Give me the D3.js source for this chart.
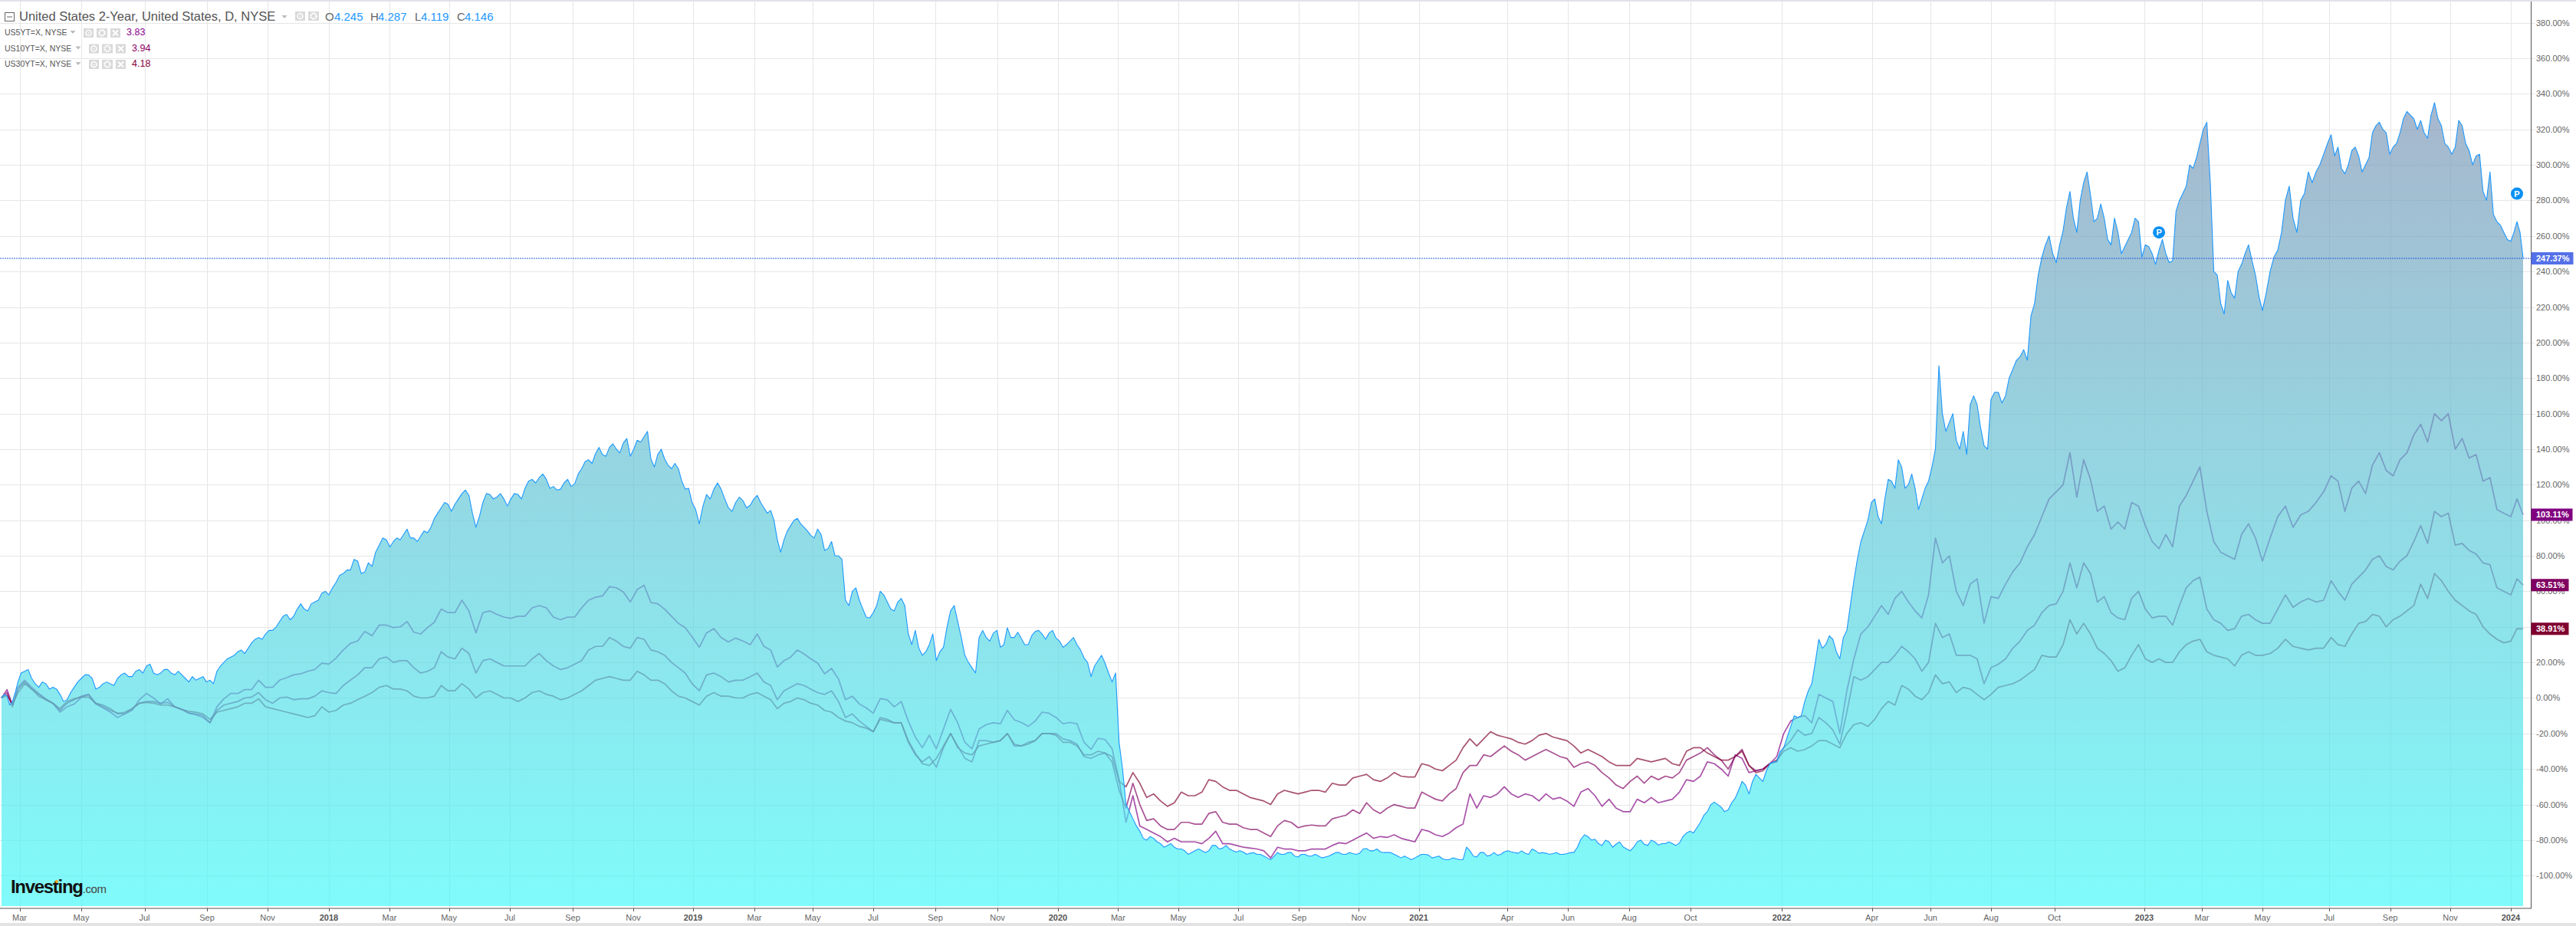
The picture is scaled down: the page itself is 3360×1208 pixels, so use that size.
<!DOCTYPE html>
<html><head><meta charset="utf-8">
<script src="https://cdn.jsdelivr.net/npm/d3@7"></script>
<style>html,body{margin:0;padding:0;background:#fff}svg{display:block}text{font-family:"Liberation Sans",Arial,sans-serif}</style>
</head><body><svg id="c" width="3360" height="1208"></svg>
<script>
// Weekly closes from the first date, % change
const startDate = "2017-02-06";
const us2y = [
0.3,1,-2,9,15,11,6,8,6,2,-1,6,11,13,5,8,8,11,14,12,
16,18,14,14,16,13,13,9,10,12,10,15,20,23,26,25,31,34,36,38,
43,47,46,53,49,54,59,58,65,70,72,77,71,74,86,89,88,89,95,90,
91,93,101,107,109,109,115,114,96,110,114.5,113,112,112,114.5,118,123,124,123,119,
117.5,123,120.5,129,134,137.5,137,141,140,143.5,136,145,147,134.5,137,134.5,129,129,117.5,110,
98,114.5,117.5,117.5,107,110,111,108.5,114,107,105.5,89,89,97,101,96,91.5,95,83,88,
80,55,60,55,45.5,48,60,54,49,56,36,38,24,30,21,28.5,49,43,24,17,
34,34,36.5,28.5,39.5,34,33.5,30,37.4,36,36.5,33.7,28.5,32,30,22.5,12,21,19.5,9,
-25,-60,-68,-75,-80,-79,-82,-83,-84,-85,-88,-86,-86,-86,-83,-84.5,-85,-86.7,-86.7,-87.4,
-88,-89,-91,-87,-88,-87,-89.5,-88,-89,-89,-89.5,-88,-87,-88,-87.6,-87.4,-84.8,-86,-86.6,-87,
-88,-90,-90,-90,-88,-88.5,-89.5,-90.5,-91,-90.5,-91,-86,-89.5,-87,-88.5,-88.5,-86.6,-86.6,-87.4,-87.4,
-85,-87.4,-87.4,-87.6,-88,-87.6,-87,-79.5,-78,-79.5,-83,-81,-82.3,-83.8,-86,-81,-82.3,-80,-82.8,-82,
-82,-81.6,-76,-76,-70,-64,-58.6,-61.5,-63,-56.5,-47,-54,-43,-47,-37,-35.6,-28,-16,-11,-2,
8,33,30,33,22,38,66,88,100,112,98,123,118,130,120,118,112,122,140,160,
155,145,150,165,165,142,168,172,170,185,192,190,222,248,260,245,263,285,262,290,
283,270,270,255,262,254,262,268,255,250,252,250,246,280,288,298,312,324,240,222,
235,225,244,255,238,218,240,252,280,270,280,296,296,306,317,310,295,308,305,300,
318,324,318,310,318,330,326,325,315,335,322,310,310,322,308,305,285,296,268,262,
257,268,247.37];
// Mid-week readings of the 2-year line, one between each pair of weekly values
const us2yMid = [
2,-4,3,14,16,8,9,5,5,-2,3,9,13,11,6,9,7,13,12,15,
14,19,13,16,14,15,11,12,11,9,8,18,22,24,27,28,33,33,38,40,
46,44,50,50,53,55,60,62,69,72,78,70,76,82,90,85,90,92,90,88,
94,96,104,110,105,112,117,104,102,115,112,115,108,115,112,122,121,126,118,117,
121,119,126,133,132,141,136,143,138,146,140,144,150,130,140,131,132,122,118,106,
108,112,121,112,105,113,107,112,110,104,100,82,94,100,98,94,90,92,84,80,
78,52,62,50,45,52,58,50,54,52,30,28,26,36,26,40,52,34,20,14,
38,32,38,30,34,37,30,35,38,33,38,32,30,34,27,20,18,24,14,14,
-40,-64,-72,-79,-78,-81,-84,-82,-85,-86,-87,-85,-87,-83,-85,-83,-86,-86,-88,-87,
-88,-90,-89,-88,-87,-89,-88,-89,-88,-90,-89,-87,-88,-87,-88,-85,-86,-85,-87,-87,
-89,-89,-91,-89,-88,-90,-89,-91,-90,-91,-84,-89,-87,-89,-87,-88,-86,-87,-86,-88,
-86,-87,-88,-87,-88,-87,-84,-77,-80,-82,-80,-84,-81,-85,-84,-80,-83,-81,-82,-81,
-83,-78,-75,-73,-66,-60,-60,-64,-59,-52,-49,-47,-45,-41,-36,-30,-22,-10,-10,4,
20,28,35,26,34,52,78,94,110,102,112,122,134,118,126,106,118,130,187,150,
160,140,137,170,152,140,172,166,180,190,196,215,238,255,250,255,276,270,280,296,
268,278,258,270,250,258,270,248,254,244,258,245,274,284,300,304,320,290,238,216,
228,240,250,246,226,228,248,262,288,262,284,290,300,312,305,298,300,310,296,304,
322,320,306,312,326,328,320,318,328,326,312,306,325,312,300,306,280,272,266,258,
262,262];
const us5y = [
0,4.7,-4,6,10,6,2.5,-0.5,-3,-8,-5,-3.4,0.3,2,-3.4,-5.6,-8,-11,-9,-7,
-1,2.5,0,-3.4,-0.5,-5,-6.4,-8.6,-9.5,-11,-14,-5,-0.5,2.5,2.5,4.7,4.7,10,6,6,
10,11.4,13,13.6,15,16,19.6,19,22.5,27,30.7,32,37.4,35,41,41,39.6,40,43,37,
36,39.6,42.6,50,48,48,55,49,36.6,48,49,47,45.5,44.8,46,46,50.7,52,50.7,45.5,
44,45.5,45.5,50.7,55,56.7,57.4,62.6,62,59.6,54,61,63.4,53.7,53,50,46,42,39.6,34.4,
28.5,36.6,39,34,31.5,33.7,32,30,36,29,27,17.4,21,23,27,24.8,22,19.6,13.6,16.6,
10.7,-1,1,-3.4,-5.6,-8.6,-0.4,-1,-5,-2,-13,-22,-28,-21,-28.6,-17.5,-6.4,-14,-25,-28.6,
-17.5,-15,-14,-14.5,-7,-12.3,-13.8,-16,-13,-8,-8.6,-11,-14.5,-13.8,-14.5,-25,-29,-22.7,-23.4,-28.6,
-46,-70,-55,-72,-74,-76,-78,-81,-79,-81,-81,-81,-82,-79,-75,-82,-82,-83,-84,-84.5,
-85,-86,-90,-84,-85,-85,-86,-86,-85,-85,-85,-83,-81.5,-82,-80,-78,-76,-79,-78,-78.5,
-77,-79,-80,-81,-74,-75,-77,-78,-76,-73,-71,-54,-62,-55,-56,-54,-50,-54,-56,-54,
-55,-58,-54,-57,-56,-58,-61,-53,-51,-55,-61,-57,-62,-64,-64,-57,-59,-56,-59,-58,
-57,-53,-46,-47,-44,-36,-37,-40,-44,-32,-34,-42,-41,-40,-37,-33,-20,-13,-11,-10,
-14,2,0,-2,-20,4,22,36,40,46,52,47,56,60,54,49,45,58,90,76,
80,60,52,64,67,42,57,56,64,71,76,85,92,102,112,116,120,138,113,134,
123,105,108,95,99,95,110,108,97,88,84,92,85,108,114,122,130,105,88,82,
80,78,92,98,90,77,90,102,108,96,103,105,110,116,125,122,105,118,122,115,
131,138,128,125,134,138,148,154,144,160,156,160,140,146,135,137,122,124,106,104,
102,112,103.11];
const us10y = [
0,3,-5,5,9,5,2,-1,-3,-7,-3,-1,1,2,-3,-5,-7,-8.5,-9,-6,
-3,-2,-2,-3,-2.5,-5,-6.5,-8.5,-9,-10,-14,-7,-4,-3,-2,0,0.5,3,-1,-3,
0,0.5,-1,-0.5,-0.5,1,4,3,2.5,7,10,13,17,17,22,23,20,21,21,17,
14,15,17,26,23,22,28,25,14,21,22,20,18,18,18,18,22,25,21,18,
16,17,19,21,27,29,29,34,32,29,28,34,33,27,26,24,20,17,14,8,
4,13,14,12,9,10,10,12,14,9,7,-1,4,6,8,7,5,3,2,4,
-2,-11,-9,-13,-16,-19,-11,-12,-14,-14,-25,-32,-36,-33,-39,-28,-20,-27,-34,-36,
-24,-24,-25,-24,-20,-27,-27,-25,-24,-20,-20,-20,-23,-24,-26,-33,-34,-32,-31,-36,
-52,-62,-48,-60,-69,-68,-72,-74,-74,-70,-70,-71,-71,-65,-64,-70,-71,-71,-73,-74,
-74,-76,-78,-72,-69,-70,-73,-72,-71.5,-72,-72,-68,-67,-66,-63,-65,-59,-63,-65,-62,
-60,-61,-62,-62,-53,-55,-57,-58,-54,-51,-42,-38,-38,-32,-33,-30,-27,-30,-32,-35,
-33,-31,-29,-31,-33,-34,-39,-37,-36,-38,-42,-45,-49,-51,-47,-44,-48,-44,-46,-44,
-45,-42,-35,-33,-31,-28,-32,-35,-40,-33,-29,-38,-41,-40,-37,-36,-28,-24,-18,-21,
-20,-11,-14,-18,-26,-8,12,10,12,16,20,20,24,29,26,22,15,20,42,34,
36,24,24,24,22,8,17,19,22,28,32,38,41,48,52,53,60,76,62,76,
70,54,57,48,45,44,56,60,50,45,46,46,41,52,62,66,68,50,44,42,
38,39,46,47,44,42,42,50,58,51,54,56,54,55,66,60,55,64,68,72,
78,80,74,72,77,80,88,97,87,105,102,104,86,87,83,81,76,75,62,60,
58,67,63.51];
const us30y = [
0,1.5,-3.5,3,8,5,1,-1,-3,-6,-2,-0.5,0.5,0.5,-3,-4,-6,-9,-8,-6,
-3,-2.5,-3,-4,-4,-5,-6.5,-7.5,-8,-9,-12,-8,-7,-6,-5,-3,-3,-0.5,-5,-6,
-7,-8,-9,-10,-11,-10,-5,-8,-7,-4,-3,-1,1,3,6,7,5,5,4,1,
0,0,1,7,4,4,8,5,0,3,4,2,0,0,-2,0,3,4,2,1,
-1,0,2,4,7,10,11,12,11,10,10,15,13,10,10,8,4,1,0,-2,
-4,1,3,1,1,0,0,2,3,1,-1,-6,-3,-2,0,-1,-3,-4,-7,-8,
-11,-13,-14,-16,-17,-19,-12,-13,-14,-14,-24,-31,-37,-38,-34,-27,-20,-28,-31,-32,
-27,-26,-25,-24,-20,-26,-27,-26,-24,-20,-20,-21,-25,-25,-27,-32,-32,-30,-31,-33,
-47,-50,-42,-48,-56,-54,-58,-61,-59,-53,-55,-55,-53,-46,-47,-50,-52,-52,-54,-56,
-57,-58,-60,-54,-52,-53,-54,-53,-52,-52,-53,-48,-49,-49,-45,-44,-43,-46,-47,-45,
-42,-44,-44.5,-44.5,-37,-38,-40,-41,-38,-35,-28,-23,-27,-23,-19,-21,-22,-23,-25,-26,
-24,-21,-20,-22,-23,-24,-27,-31,-29,-31,-33,-36,-38,-38,-38,-34,-35,-36,-35,-34,
-37,-38,-30,-28,-28,-31,-33,-35,-35,-33,-30,-38,-42,-41,-37,-35,-30,-28,-30,-29,
-27,-24,-24,-26,-28,-20,-15,-14,-16,-12,-6,-2,-4,7,5,1,-1,3,13,8,
9,3,6,5,2,-1,2,6,7,8,10,13,16,24,23,23,30,44,36,42,
36,28,25,21,15,17,24,30,22,20,22,20,20,26,30,32,33,26,24,23,
22,18,24,26,24,24,25,28,33,29,28,27,28,28,34,30,29,36,42,43,
47,46,40,44,46,49,52,64,56,70,66,60,55,52,49,47,40,36,33,31,
32,39,38.91];
const tickDates = ["2017-03-01","2017-05-01","2017-07-01","2017-09-01","2017-11-01","2018-01-01","2018-03-01","2018-05-01","2018-07-01","2018-09-01","2018-11-01","2019-01-01","2019-03-01","2019-05-01","2019-07-01","2019-09-01","2019-11-01","2020-01-01","2020-03-01","2020-05-01","2020-07-01","2020-09-01","2020-11-01","2021-01-01","2021-04-01","2021-06-01","2021-08-01","2021-10-01","2022-01-01","2022-04-01","2022-06-01","2022-08-01","2022-10-01","2023-01-01","2023-03-01","2023-05-01","2023-07-01","2023-09-01","2023-11-01","2024-01-01"];
const tickLabels = ["Mar","May","Jul","Sep","Nov","2018","Mar","May","Jul","Sep","Nov","2019","Mar","May","Jul","Sep","Nov","2020","Mar","May","Jul","Sep","Nov","2021","Apr","Jun","Aug","Oct","2022","Apr","Jun","Aug","Oct","2023","Mar","May","Jul","Sep","Nov","2024"];
const endDate = "2024-01-15";
const yTicks = d3.range(-100, 381, 20);
const lastValues = [
  {label:"247.37%", v:247.37, fill:"#5470e8", w:55},
  {label:"103.11%", v:103.11, fill:"#800080", w:54},
  {label:"63.51%",  v:63.51,  fill:"#7f0060", w:49},
  {label:"38.91%",  v:38.91,  fill:"#7f0030", w:49}];
const splitDates = ["2023-01-16","2024-01-08"];
const splitLevels = [262,283.8];
const legendRows = [
  {name:"US5YT=X, NYSE",  val:"3.83", color:"#8b008b"},
  {name:"US10YT=X, NYSE", val:"3.94", color:"#8b0062"},
  {name:"US30YT=X, NYSE", val:"4.18", color:"#85003a"}];
const ohlc = [["O","4.245"],["H","4.287"],["L","4.119"],["C","4.146"]];

// layout
const tickX = [25.5,106,188.5,270,349,429,508,585.6,665,747,826,904,984,1060,1139,1220,1301,1380,1458.4,1536.9,1615.3,1694.4,1772.2,1850.6,1966,2045,2125,2205,2324,2441.6,2518,2597,2679.5,2797,2872,2951,3038,3117.6,3196,3275];
const plotL=2, plotR=3291, axisX=3301.5, axisY=1185, areaBottom=1182;
const parse=d3.utcParse("%Y-%m-%d");
const x=d3.scaleUtc().domain([parse(startDate),...tickDates.map(parse),parse(endDate)]).range([plotL,...tickX,plotR]);
const y=d3.scaleLinear().domain([-100,380]).range([1142.3,29.6]);
const dates=us2y.map((_,i)=>d3.utcDay.offset(parse(startDate),7*i));
const dense2y=d3.merge(us2y.map((v,i)=>i<us2yMid.length
  ?[{d:dates[i],v},{d:d3.utcHour.offset(dates[i],84),v:us2yMid[i]}]
  :[{d:dates[i],v}]));
const svg=d3.select("#c");
const defs=svg.append("defs");
const gr=defs.append("linearGradient").attr("id","af").attr("gradientUnits","userSpaceOnUse").attr("x1",0).attr("x2",0).attr("y1",121).attr("y2",areaBottom);
gr.append("stop").attr("offset",0).attr("stop-color","rgb(124,146,179)");
gr.append("stop").attr("offset",1).attr("stop-color","rgb(65,249,249)");

svg.append("rect").attr("width",3360).attr("height",1208).attr("fill","#fff");
svg.append("rect").attr("y",0).attr("width",3360).attr("height",2).attr("fill","#e1e1ea");
svg.append("rect").attr("y",1204).attr("width",3360).attr("height",4).attr("fill","#e3e3e3");

// grid
const grid=svg.append("g").attr("stroke","#e6e6e6").attr("stroke-width",1);
grid.selectAll("line.h").data(yTicks).join("line").attr("x1",0).attr("x2",axisX+5).attr("y1",d=>Math.round(y(d))+.5).attr("y2",d=>Math.round(y(d))+.5);
grid.selectAll("line.v").data(tickDates).join("line").attr("x1",d=>Math.round(x(parse(d)))+.5).attr("x2",d=>Math.round(x(parse(d)))+.5).attr("y1",2).attr("y2",axisY);

// compare lines (under the translucent area)
const line=d3.line().x((d,i)=>x(dates[i])).y(d=>y(d));
[[us5y,"#800080"],[us10y,"#800060"],[us30y,"#7f0030"]].forEach(([s,c])=>{
  svg.append("path").attr("d",line(s)).attr("fill","none").attr("stroke",c).attr("stroke-width",1.7).attr("stroke-opacity",.68).attr("stroke-linejoin","round");
});
// area
const area=d3.area().x(p=>x(p.d)).y0(areaBottom).y1(p=>y(p.v));
const line2=d3.line().x(p=>x(p.d)).y(p=>y(p.v));
svg.append("path").attr("d",area(dense2y)).attr("fill","url(#af)").attr("fill-opacity",.67);
svg.append("path").attr("d",line2(dense2y)).attr("fill","none").attr("stroke","#1e98ff").attr("stroke-width",1.1).attr("stroke-linejoin","round");

// last price line
svg.append("line").attr("x1",0).attr("x2",axisX).attr("y1",y(247.37)).attr("y2",y(247.37)).attr("stroke","#2f5fe6").attr("stroke-width",1).attr("stroke-dasharray","2 1");

// axes
svg.append("line").attr("x1",axisX).attr("x2",axisX).attr("y1",2).attr("y2",axisY).attr("stroke","#555").attr("stroke-width",1);
svg.append("line").attr("x1",0).attr("x2",axisX+.5).attr("y1",axisY).attr("y2",axisY).attr("stroke","#555").attr("stroke-width",1);
svg.append("g").selectAll("line").data(tickDates).join("line").attr("x1",d=>Math.round(x(parse(d)))+.5).attr("x2",d=>Math.round(x(parse(d)))+.5).attr("y1",axisY).attr("y2",axisY+4).attr("stroke","#555");
svg.append("g").selectAll("text").data(tickLabels).join("text")
  .attr("x",(d,i)=>x(parse(tickDates[i]))).attr("y",1201).attr("text-anchor","middle").attr("font-size",11)
  .attr("font-weight",d=>/^\d/.test(d)?"bold":"normal").attr("fill",d=>/^\d/.test(d)?"#555":"#666").text(d=>d);
svg.append("g").selectAll("text").data(yTicks).join("text")
  .attr("x",3308).attr("y",d=>y(d)+4).attr("font-size",11).attr("fill","#666")
  .text(d=>d.toFixed(2)+"%");

// last value tags
const tag=svg.append("g").selectAll("g").data(lastValues).join("g");
tag.append("rect").attr("x",axisX).attr("y",d=>y(d.v)-8).attr("width",d=>d.w).attr("height",16).attr("fill",d=>d.fill);
tag.append("text").attr("x",3308).attr("y",d=>y(d.v)+4).attr("font-size",11).attr("font-weight","bold").attr("fill","#fff").text(d=>d.label);

// split markers
const mk=svg.append("g").selectAll("g").data(splitDates).join("g").attr("transform",(d,i)=>`translate(${x(parse(d))},${y(splitLevels[i])})`);
mk.append("circle").attr("r",8).attr("fill","#0a90f2");
mk.append("text").attr("y",4).attr("text-anchor","middle").attr("font-size",11).attr("font-weight","bold").attr("fill","#fff").text("P");

// legend
const leg=svg.append("g");
leg.append("rect").attr("x",6.5).attr("y",16.5).attr("width",12).attr("height",11).attr("fill","#fff").attr("stroke","#666");
leg.append("line").attr("x1",9).attr("x2",16).attr("y1",22).attr("y2",22).attr("stroke","#666");
leg.append("text").attr("x",25).attr("y",27).attr("font-size",16.5).attr("fill","#555").text("United States 2-Year, United States, D, NYSE");
function arrow(px,py){leg.append("path").attr("d",`M${px-3.5},${py}h7l-3.5,4z`).attr("fill","#bbb");}
function iconBox(px,py,w,kind){
  leg.append("rect").attr("x",px).attr("y",py).attr("width",w).attr("height",12).attr("fill","#d9d9d9");
  const cx=px+w/2, cy=py+6;
  if(kind==="eye"){leg.append("circle").attr("cx",cx).attr("cy",cy).attr("r",3.5).attr("fill","none").attr("stroke","#fff").attr("stroke-width",1.5);leg.append("circle").attr("cx",cx).attr("cy",cy).attr("r",1).attr("fill","#fff");}
  if(kind==="gear"){leg.append("circle").attr("cx",cx).attr("cy",cy).attr("r",3.6).attr("fill","none").attr("stroke","#fff").attr("stroke-width",2.6).attr("stroke-dasharray","2 .8");}
  if(kind==="x"){leg.append("path").attr("d",`M${cx-3.5},${cy-3.5}l7,7m0,-7l-7,7`).attr("stroke","#fff").attr("stroke-width",2);}
}
arrow(371,20); iconBox(385,15,13,"eye"); iconBox(402,15,14,"gear");
const ohlcX=[[424,436],[483,493],[541,549],[596,606]];
ohlc.forEach(([k,v],i)=>{
  leg.append("text").attr("x",ohlcX[i][0]).attr("y",27).attr("font-size",15).attr("fill","#666").text(k);
  leg.append("text").attr("x",ohlcX[i][1]).attr("y",27).attr("font-size",15).attr("fill","#1e98ff").text(v);
});
const rowY=[46,66.5,87], rowX=[[95,109,126,144,165],[102,116,133,151,172],[102,116,133,151,172]];
legendRows.forEach((r,i)=>{
  leg.append("text").attr("x",6).attr("y",rowY[i]).attr("font-size",10.5).attr("fill","#555").text(r.name);
  const q=rowX[i];
  arrow(q[0],rowY[i]-6); iconBox(q[1],rowY[i]-9,13,"eye"); iconBox(q[2],rowY[i]-9,14,"gear"); iconBox(q[3],rowY[i]-9,13,"x");
  leg.append("text").attr("x",q[4]).attr("y",rowY[i]).attr("font-size",12.5).attr("fill",r.color).text(r.val);
});

// watermark
const wm=svg.append("text").attr("x",14).attr("y",1165);
wm.append("tspan").attr("font-size",24).attr("font-weight","bold").attr("fill","#111").attr("letter-spacing","-1.3").text("Investing");
wm.append("tspan").attr("font-size",15).attr("fill","#444").attr("letter-spacing","-.4").text(".com");
svg.append("circle").attr("cx",74).attr("cy",1150).attr("r",2).attr("fill","#f5a623");
</script></body></html>
